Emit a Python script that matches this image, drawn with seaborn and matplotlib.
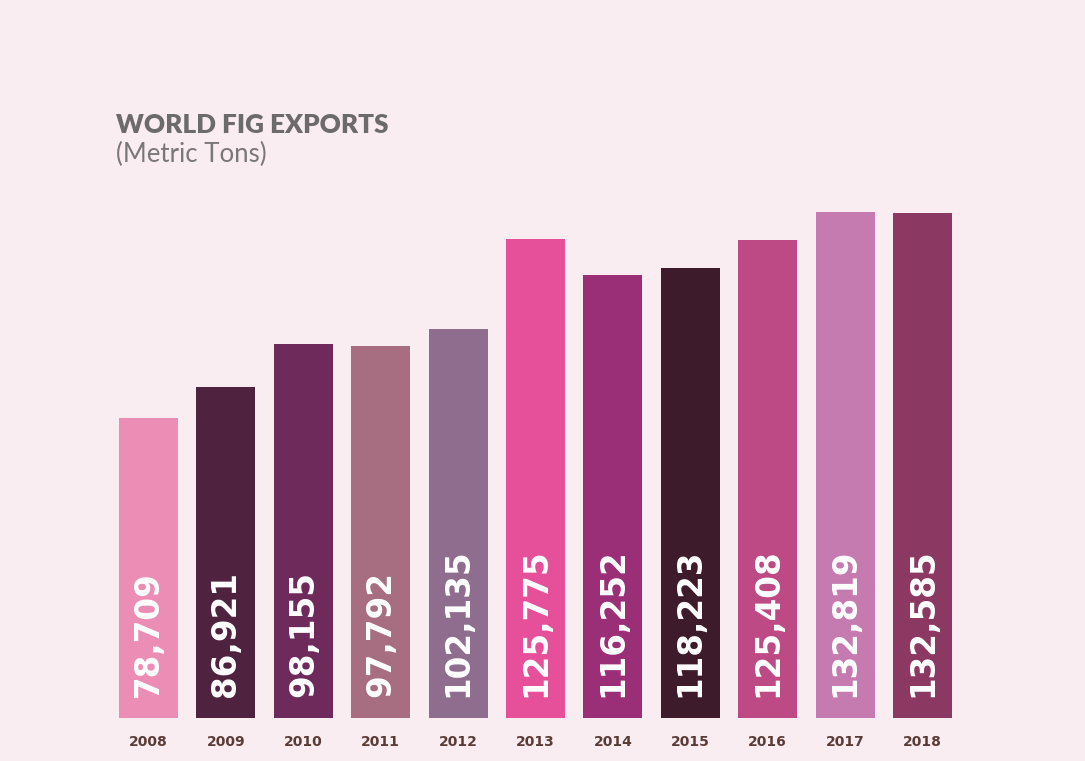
import matplotlib
matplotlib.use("Agg")
import matplotlib.pyplot as plt
import seaborn as sns
import pandas as pd

years = ["2008", "2009", "2010", "2011", "2012", "2013",
         "2014", "2015", "2016", "2017", "2018"]
exports = [78709, 86921, 98155, 97792, 102135, 125775,
           116252, 118223, 125408, 132819, 132585]
bar_colors = ["#ec8db5", "#4f2340", "#6e2a5a", "#a66e80", "#8f6d8e", "#e6509a",
              "#9a2f78", "#3d1b2a", "#bd4a84", "#c57bb0", "#8b3862"]

bg = "#f9edf2"
sns.set_theme(style="white", rc={"axes.facecolor": bg, "figure.facecolor": bg})
plt.rcParams["font.family"] = ["DejaVu Sans"]

df = pd.DataFrame({"year": years, "tons": exports})

W, H = 1085, 761
fig = plt.figure(figsize=(W / 100, H / 100), dpi=100)
left_px, right_px, top_px, bottom_px = 109.8, 961.2, 200, 718
ax = fig.add_axes([left_px / W, 1 - bottom_px / H,
                   (right_px - left_px) / W, (bottom_px - top_px) / H])

sns.barplot(data=df, x="year", y="tons", hue="year", palette=bar_colors,
            legend=False, width=0.76, saturation=1, linewidth=0, ax=ax)

ax.set_xlim(-0.5, len(years) - 0.5)
ax.set_ylim(0, 136000)
ax.set_xlabel("")
ax.set_ylabel("")
ax.set_yticks([])
sns.despine(ax=ax, left=True, bottom=True)
ax.tick_params(axis="x", length=0, pad=12)
for lab in ax.get_xticklabels():
    lab.set_fontsize(10)
    lab.set_fontweight("bold")
    lab.set_color("#5b3b36")

for i, v in enumerate(exports):
    ax.annotate(f"{v:,}", xy=(i, 0), xytext=(0, 15), textcoords="offset points",
                rotation=90, ha="center", va="bottom", color="white",
                fontsize=23.5, fontweight="bold")

fig.text(116 / W, 1 - 133 / H, "WORLD FIG EXPORTS", fontsize=18.8, fontweight="heavy",
         color="#6d6a6b", ha="left", va="baseline", family=["Lato", "DejaVu Sans"])
fig.text(116 / W, 1 - 162 / H, "(Metric Tons)", fontsize=18.5,
         color="#7a7778", ha="left", va="baseline", family=["Lato", "DejaVu Sans"])

fig.savefig("out.png", dpi=100, facecolor=bg)
